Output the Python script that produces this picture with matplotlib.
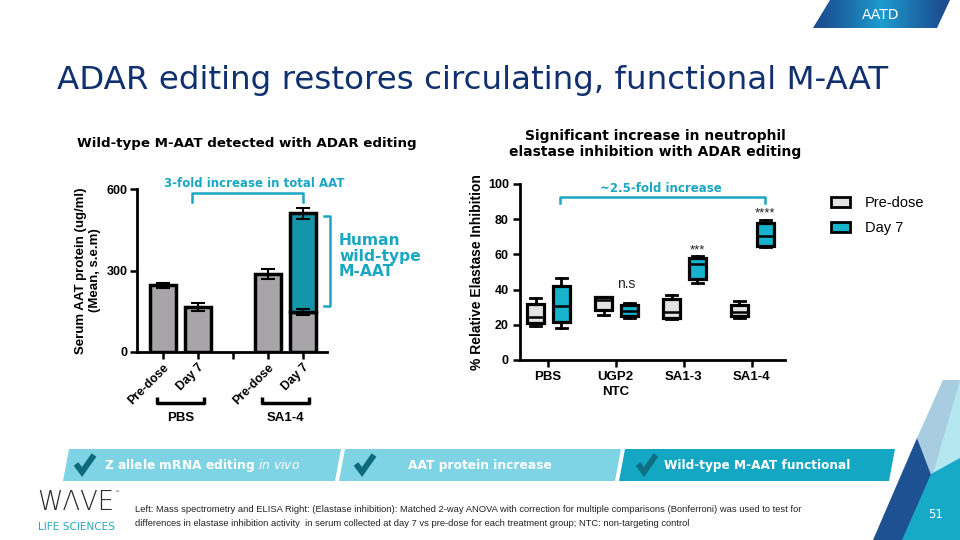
import matplotlib
matplotlib.use("Agg")
import matplotlib.pyplot as plt
from matplotlib.patches import Polygon, Patch
from matplotlib.lines import Line2D
import matplotlib.transforms as mtransforms
import numpy as np

# ---------------- data ----------------
left_labels = ["Pre-dose", "Day 7", "", "Pre-dose", "Day 7"]
left_pos = [0, 1, 3, 4]
left_total = [245, 166, 288, 510]
left_err = [10, 15, 19, 20]
left_gray = [245, 166, 288, 147]
left_gray_err = [10, 15, 19, 12]
left_groups = ["PBS", "SA1-4"]

right_cats = ["PBS", "UGP2\nNTC", "SA1-3", "SA1-4"]
pre_whislo = [19.5, 25.5, 23.1, 24.0]
pre_q1 = [20.8, 28.5, 23.7, 25.2]
pre_med = [24.6, 34.0, 27.5, 27.5]
pre_q3 = [31.6, 35.6, 34.5, 31.2]
pre_whishi = [35.0, 35.6, 36.9, 33.5]
d7_whislo = [18.4, 23.7, 43.6, 64.0]
d7_q1 = [21.8, 25.2, 45.8, 64.8]
d7_med = [30.7, 28.0, 54.4, 70.6]
d7_q3 = [42.0, 31.2, 58.0, 77.7]
d7_whishi = [46.4, 32.6, 59.0, 79.5]
sig_labels = ["", "n.s", "***", "****"]
sig_y = [0, 43, 62, 83]

W, H = 960, 540
fig = plt.figure(figsize=(9.6, 5.4), dpi=100)
fig.patch.set_facecolor("white")

def fx(x):
    return x / W

def fy(y):
    return 1 - y / H

def fpoly(pts, **kw):
    p = Polygon([(fx(x), fy(y)) for x, y in pts], closed=True,
                transform=fig.transFigure, **kw)
    fig.patches.append(p)
    return p

NAVY = "#11306f"
TEAL_TXT = "#1aa7c3"
GRAY = "#a8a5a9"
TEAL_L = "#1595ac"
TEAL_R = "#17b2cb"
CH = ["Liberation Sans", "DejaVu Sans"]

# ---------------- header ----------------
axt = fig.add_axes([fx(813), fy(28), fx(950 - 813), 28 / H])
axt.axis("off")
grad = np.linspace(-1, 1, 200)
grad = (1 - np.abs(grad)) ** 1.2
c_dark = np.array([0x1b, 0x4a, 0x8e]) / 255
c_light = np.array([0x1e, 0x9c, 0xd0]) / 255
img = c_dark[None, None, :] + (c_light - c_dark)[None, None, :] * grad[None, :, None]
im = axt.imshow(np.repeat(img, 2, axis=0), extent=[813, 950, 28, 0], aspect="auto")
axt.set_xlim(813, 950)
axt.set_ylim(28, 0)
clip = Polygon([(813, 28), (830, 0), (950, 0), (937, 28)], closed=True, transform=axt.transData,
               facecolor="none", edgecolor="none")
axt.add_patch(clip)
im.set_clip_path(clip)
fig.text(fx(881), fy(15), "AATD", color="white", fontsize=10, ha="center", va="center",
         family="DejaVu Sans")
fig.text(fx(57), fy(80), "ADAR editing restores circulating, functional M-AAT",
         color=NAVY, fontsize=23.4, ha="left", va="center", family="DejaVu Sans")

fig.text(fx(247), fy(143), "Wild-type M-AAT detected with ADAR editing", fontsize=9.6,
         fontweight="bold", ha="center", va="center", family="DejaVu Sans")
fig.text(fx(655), fy(144), "Significant increase in neutrophil\nelastase inhibition with ADAR editing",
         fontsize=10, fontweight="bold", ha="center", va="center", family="DejaVu Sans",
         linespacing=1.25)

# ---------------- left chart ----------------
ax1 = fig.add_axes([fx(137), fy(352), fx(327 - 137), (352 - 189) / H])
ax1.set_xlim(-0.75, 4.7)
ax1.set_ylim(0, 600)
for i, (p, t) in enumerate(zip(left_pos, left_total)):
    ax1.bar(p, left_gray[i], width=0.75, color=GRAY, edgecolor="black", linewidth=2.5, zorder=2)
    if t > left_gray[i]:
        ax1.bar(p, t - left_gray[i], bottom=left_gray[i], width=0.75, color=TEAL_L,
                edgecolor="black", linewidth=2.5, zorder=2)
ax1.errorbar(left_pos, left_total, yerr=left_err, fmt="none", ecolor="black",
             elinewidth=1.5, capsize=5, capthick=1.5, zorder=3)
ax1.errorbar([left_pos[3]], [left_gray[3]], yerr=[left_gray_err[3]], fmt="none",
             ecolor="black", elinewidth=1.5, capsize=5, capthick=1.5, zorder=3)
ax1.set_yticks([0, 300, 600])
ax1.set_yticklabels(["0", "300", "600"], fontsize=9, fontweight="bold", family=CH)
ax1.set_xticks([0, 1, 2, 3, 4])
ax1.set_xticklabels(left_labels, rotation=45, ha="right", rotation_mode="anchor",
                    fontsize=8.8, fontweight="bold", family=CH)
for s in ["top", "right"]:
    ax1.spines[s].set_visible(False)
for s in ["left", "bottom"]:
    ax1.spines[s].set_linewidth(2)
ax1.tick_params(width=1.8, length=5, direction="out", pad=2)
ax1.set_ylabel("Serum AAT protein (ug/ml)\n(Mean, s.e.m)", fontsize=9.5, fontweight="bold",
               family=CH, labelpad=4, linespacing=1.2)
trans1 = mtransforms.blended_transform_factory(ax1.transData, fig.transFigure)
for (a, b), name in zip([(0, 1), (3, 4)], left_groups):
    xa, xb = a - 0.17, b + 0.17
    ax1.plot([xa, xa, xb, xb], [fy(397), fy(403), fy(403), fy(397)], color="black", lw=2.5,
             transform=trans1, clip_on=False, solid_capstyle="butt")
    ax1.text((a + b) / 2, fy(418), name, transform=trans1, ha="center", va="center",
             fontsize=9.5, fontweight="bold", family=CH)
# 3-fold bracket
ax1.plot([0.84, 0.84, 4, 4], [552, 585, 585, 552], color=TEAL_TXT, lw=1.8, clip_on=False)
ax1.text(2.6, 622, "3-fold increase in total AAT", color=TEAL_TXT, fontsize=8.5,
         fontweight="bold", ha="center", va="center", family="DejaVu Sans")
# human wild-type bracket
ax1.plot([4.6, 4.8, 4.8, 4.6], [500, 500, 168, 168], color=TEAL_TXT, lw=1.8, clip_on=False)
fig.text(fx(339), fy(256), "Human\nwild-type\nM-AAT", color=TEAL_TXT, fontsize=11.2,
         fontweight="bold", ha="left", va="center", family="DejaVu Sans", linespacing=1.05)

# ---------------- right chart ----------------
ax2 = fig.add_axes([fx(520), fy(360), fx(785 - 520), (360 - 184) / H])
ax2.set_xlim(-0.41, 3.49)
ax2.set_ylim(0, 100)
xs = np.arange(len(right_cats))
def stats(lo, q1, med, q3, hi):
    return [dict(whislo=a, q1=b, med=c, q3=d, whishi=e, fliers=[])
            for a, b, c, d, e in zip(lo, q1, med, q3, hi)]
for st, off, col in [(stats(pre_whislo, pre_q1, pre_med, pre_q3, pre_whishi), -0.18, "#e3e3e3"),
                     (stats(d7_whislo, d7_q1, d7_med, d7_q3, d7_whishi), 0.2, TEAL_R)]:
    ax2.bxp(st, positions=xs + off, widths=0.25, capwidths=0.16, patch_artist=True,
            showfliers=False, manage_ticks=False,
            boxprops=dict(facecolor=col, edgecolor="black", linewidth=2.3),
            whiskerprops=dict(color="black", linewidth=2),
            capprops=dict(color="black", linewidth=2),
            medianprops=dict(color="black", linewidth=1.8))
for i, (lab, yv) in enumerate(zip(sig_labels, sig_y)):
    if lab:
        ax2.text(xs[i] + (0.2 if lab != "n.s" else 0.15), yv, lab, ha="center", va="center",
                 fontsize=10 if lab == "n.s" else 9.5, family=CH, color="#222222")
ax2.set_yticks([0, 20, 40, 60, 80, 100])
ax2.set_yticklabels(["0", "20", "40", "60", "80", "100"], fontsize=9, fontweight="bold", family=CH)
ax2.set_xticks(xs)
ax2.set_xticklabels(right_cats, fontsize=9.5, fontweight="bold", family=CH, linespacing=1.3)
for s in ["top", "right"]:
    ax2.spines[s].set_visible(False)
for s in ["left", "bottom"]:
    ax2.spines[s].set_linewidth(2)
ax2.tick_params(width=1.8, length=5, direction="out", pad=3)
ax2.set_ylabel("% Relative Elastase Inhibition", fontsize=10, fontweight="bold", family=CH,
               labelpad=3)
ax2.plot([0.18, 0.18, 3.2, 3.2], [89, 92.5, 92.5, 89], color=TEAL_TXT, lw=1.8, clip_on=False)
ax2.text(1.67, 97.5, "~2.5-fold increase", color=TEAL_TXT, fontsize=8.5, fontweight="bold",
         ha="center", va="center", family="DejaVu Sans")
fig.legend(handles=[Patch(facecolor="#e3e3e3", edgecolor="black", linewidth=2, label="Pre-dose"),
                    Patch(facecolor=TEAL_R, edgecolor="black", linewidth=2, label="Day 7")],
           loc="upper left", bbox_to_anchor=(fx(818), fy(183)), frameon=False,
           prop=dict(family=CH, size=10.5), handlelength=1.3, handleheight=0.6,
           labelspacing=0.75, handletextpad=1.0)

# ---------------- bottom banner ----------------
LB = "#7ed4e4"
DB = "#13a7c3"
fpoly([(69, 449), (341, 449), (335, 481), (63, 481)], facecolor=LB, edgecolor="none")
fpoly([(345, 449), (621, 449), (615, 481), (339, 481)], facecolor=LB, edgecolor="none")
fpoly([(625, 449), (895, 449), (889, 481), (619, 481)], facecolor=DB, edgecolor="none")
for x0, c in [(76, "#0c6b7c"), (356, "#0c6b7c"), (638, "#0d6f82")]:
    fig.add_artist(Line2D([fx(x0), fx(x0 + 6), fx(x0 + 18)], [fy(464), fy(472), fy(455)],
                          color=c, lw=4.2, solid_capstyle="butt", solid_joinstyle="miter"))
fig.text(fx(104), fy(465), "Z allele mRNA editing $\\it{in\\ vivo}$", color="white", fontsize=8.8,
         fontweight="bold", ha="left", va="center", family="DejaVu Sans")
fig.text(fx(480), fy(465), "AAT protein increase", color="white", fontsize=8.8,
         fontweight="bold", ha="center", va="center", family="DejaVu Sans")
fig.text(fx(664), fy(465), "Wild-type M-AAT functional", color="white", fontsize=8.7,
         fontweight="bold", ha="left", va="center", family="DejaVu Sans")

# ---------------- bottom right decoration ----------------
fpoly([(943, 380), (960, 380), (960, 540), (880, 540)], facecolor="#b4e7ef", edgecolor="none")
fpoly([(943, 380), (960, 380), (932, 477), (917, 438)], facecolor="#a9cde0", edgecolor="none")
fpoly([(917, 438), (873, 540), (956, 540)], facecolor="#1d5191", edgecolor="none")
fpoly([(931, 474), (960, 458), (960, 540), (902, 540)], facecolor="#16aac6", edgecolor="none")
fig.text(fx(936), fy(515), "51", color="white", fontsize=8.5, ha="center", va="center",
         family="DejaVu Sans")

# ---------------- logo & footnote ----------------
fig.text(fx(37), fy(502), "W\u039bVE", color="#2b2b2b", fontsize=18.5, ha="left", va="center",
         family="DejaVu Sans", fontweight="light")
fig.text(fx(114), fy(492), "\u2122", color="#2b2b2b", fontsize=3.5, ha="left", va="center")
fig.text(fx(38), fy(527), "LIFE SCIENCES", color="#2aa7c3", fontsize=7.6, ha="left", va="center",
         family="DejaVu Sans")
fig.text(fx(135), fy(510), "Left: Mass spectrometry and ELISA Right: (Elastase inhibition): Matched 2-way ANOVA with correction for multiple comparisons (Bonferroni) was used to test for",
         fontsize=6.75, ha="left", va="center", family=["Liberation Sans Narrow", "Liberation Sans"],
         color="#222222")
fig.text(fx(135), fy(524), "differences in elastase inhibition activity  in serum collected at day 7 vs pre-dose for each treatment group; NTC: non-targeting control",
         fontsize=6.75, ha="left", va="center", family=["Liberation Sans Narrow", "Liberation Sans"],
         color="#222222")

fig.savefig("out.png", dpi=100)
